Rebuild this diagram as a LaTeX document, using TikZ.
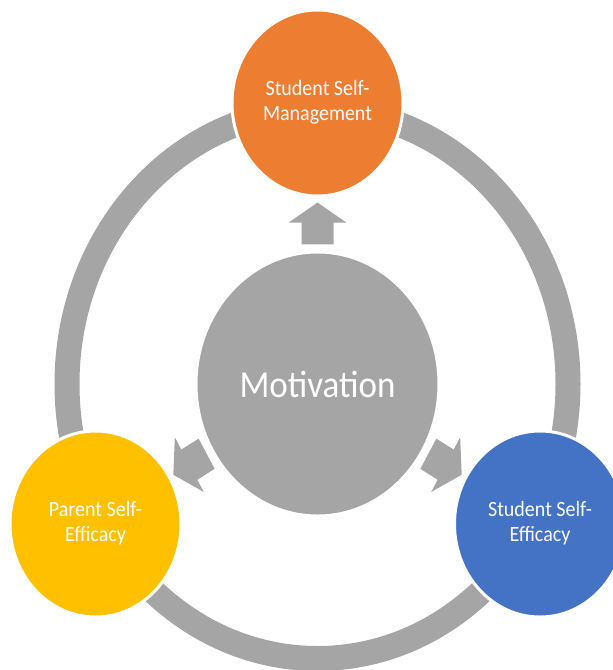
\documentclass[tikz,border=0pt]{standalone}
\usepackage{fontspec}
\setmainfont{Carlito}
\usepackage{graphicx}
\usetikzlibrary{shapes.geometric}
\definecolor{cOrange}{HTML}{ED7D31}
\definecolor{cGold}{HTML}{FFC000}
\definecolor{cBlue}{HTML}{4472C4}
\definecolor{cGray}{HTML}{A5A5A5}
\newcommand{\twoline}[2]{\scalebox{1}[1.09]{\begin{tabular}{@{}c@{}}#1\\#2\end{tabular}}}
\begin{document}
\begin{tikzpicture}[x=1pt,y=-1pt,
  sat/.style={ellipse, minimum width=171pt, minimum height=186pt, inner sep=0pt,
    draw=white, line width=3pt, text=white, font=\fontsize{20}{23}\selectfont},
  core/.style={ellipse, minimum width=243pt, minimum height=264pt, inner sep=0pt,
    fill=cGray, draw=white, line width=3pt, text=white, font=\fontsize{35}{40}\selectfont},
  ringstyle/.style={draw=cGray, line width=25pt},
  blockarrow/.style={fill=cGray}]
\clip (0,0) rectangle (613,670);
\fill[white] (0,0) rectangle (613,670);
% outer ring
\draw[ringstyle] (317.5,384) ellipse [x radius=250.5pt, y radius=274.5pt];
% satellites
\node[sat, fill=cOrange] (ssm) at (317.5,103) {\twoline{Student Self-}{Management}};
\node[sat, fill=cGold] (pse) at (95.5,524) {\twoline{Parent Self-}{Efficacy}};
\node[sat, fill=cBlue] (sse) at (540,524) {\twoline{Student Self-}{Efficacy}};
% core
\node[core] (mot) at (317.5,384) {\scalebox{1}[1.09]{Motivation}};
% block arrows
\foreach \ang in {90,210,330}{
  \begin{scope}[shift={(mot.center)}, yscale=1.09, rotate=\ang]
    \fill[blockarrow] (128,-16) -- (148,-16) -- (148,-29) -- (166.5,0)
      -- (148,29) -- (148,16) -- (128,16) -- cycle;
  \end{scope}
}
\end{tikzpicture}
\end{document}
